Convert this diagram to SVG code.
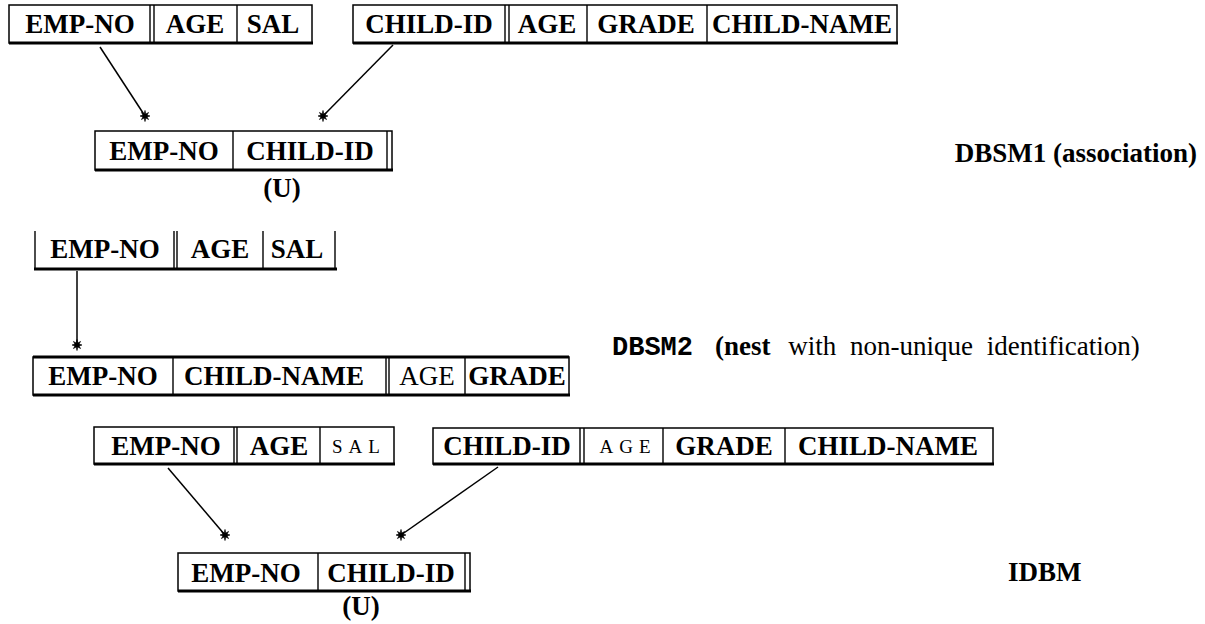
<svg xmlns="http://www.w3.org/2000/svg" width="1205" height="624" viewBox="0 0 1205 624">
<style>
.bg{fill:#fff}
.box{fill:#fff;stroke:#000;stroke-width:1.5}
.thick{stroke:#000;stroke-width:3.2;fill:none}
.div{stroke:#000;stroke-width:1.4;fill:none}
.t{font-family:"Liberation Serif",serif;font-weight:bold;font-size:27px;text-anchor:middle;fill:#000}
.r{font-weight:normal}
.sc{font-weight:normal;font-size:19px;letter-spacing:6px}
.edge{stroke:#000;stroke-width:1.5;fill:none;marker-end:url(#star)}
.lab{font-family:"Liberation Serif",serif;font-size:27px;fill:#000}
.b{font-weight:bold}
.mono{font-family:"Liberation Mono",monospace;font-weight:bold}
</style>
<defs>
<marker id="star" viewBox="-7 -7 14 14" markerWidth="14" markerHeight="14" refX="0" refY="0" markerUnits="userSpaceOnUse" orient="0">
<polygon points="5,0 2.1,0.9 3.6,3.6 0.9,2.1 0,5.6 -0.9,2.1 -3.6,3.6 -2.1,0.9 -5,0 -2.1,-0.9 -3.6,-3.6 -0.9,-2.1 0,-5.6 0.9,-2.1 3.6,-3.6 2.1,-0.9" fill="#000" stroke="#000" stroke-width="0.6" stroke-linejoin="round"/>
</marker>
</defs>
<rect class="bg" x="0" y="0" width="1205" height="624"/>

<g id="dbsm1-employee">
<rect class="box" x="9" y="5" width="303" height="38"/>
<line class="thick" x1="9" y1="43" x2="313" y2="43"/>
<line class="div" x1="150" y1="5" x2="150" y2="43"/>
<line class="div" x1="154" y1="5" x2="154" y2="43"/>
<line class="div" x1="237" y1="5" x2="237" y2="43"/>
<text class="t" x="80" y="33">EMP-NO</text>
<text class="t" x="195" y="33">AGE</text>
<text class="t" x="273" y="33">SAL</text>
</g>

<g id="dbsm1-child">
<rect class="box" x="353" y="5" width="544" height="38"/>
<line class="thick" x1="353" y1="43" x2="898" y2="43"/>
<line class="div" x1="505" y1="5" x2="505" y2="43"/>
<line class="div" x1="509" y1="5" x2="509" y2="43"/>
<line class="div" x1="587" y1="5" x2="587" y2="43"/>
<line class="div" x1="707" y1="5" x2="707" y2="43"/>
<text class="t" x="429" y="33">CHILD-ID</text>
<text class="t" x="547" y="33">AGE</text>
<text class="t" x="646" y="33">GRADE</text>
<text class="t" x="802" y="33">CHILD-NAME</text>
</g>

<g id="dbsm1-assoc">
<rect class="box" x="95" y="131" width="297" height="39"/>
<line class="thick" x1="95" y1="170" x2="393" y2="170"/>
<line class="div" x1="233" y1="131" x2="233" y2="170"/>
<line class="div" x1="387" y1="131" x2="387" y2="170"/>
<text class="t" x="164" y="160">EMP-NO</text>
<text class="t" x="310" y="160">CHILD-ID</text>
<text class="t" x="282" y="197">(U)</text>
</g>

<g id="dbsm2-employee">
<line class="div" x1="35" y1="231" x2="35" y2="269"/>
<line class="div" x1="174" y1="231" x2="174" y2="269"/>
<line class="div" x1="177" y1="231" x2="177" y2="269"/>
<line class="div" x1="263" y1="231" x2="263" y2="269"/>
<line class="div" x1="335" y1="231" x2="335" y2="269"/>
<line class="thick" x1="34" y1="269" x2="337" y2="269"/>
<text class="t" x="105" y="258">EMP-NO</text>
<text class="t" x="220" y="258">AGE</text>
<text class="t" x="297" y="258">SAL</text>
</g>

<g id="dbsm2-nest">
<rect class="box" x="33" y="357" width="536" height="38"/>
<line class="thick" x1="33" y1="357" x2="569" y2="357"/>
<line class="thick" x1="33" y1="395" x2="570" y2="395"/>
<line class="div" x1="173" y1="357" x2="173" y2="395"/>
<line class="div" x1="386" y1="357" x2="386" y2="395"/>
<line class="div" x1="389" y1="357" x2="389" y2="395"/>
<line class="div" x1="465" y1="357" x2="465" y2="395"/>
<text class="t" x="103" y="385">EMP-NO</text>
<text class="t" x="274" y="385">CHILD-NAME</text>
<text class="t r" x="427" y="385">AGE</text>
<text class="t" x="517" y="385">GRADE</text>
</g>

<g id="idbm-employee">
<rect class="box" x="94" y="427" width="300" height="37"/>
<line class="thick" x1="94" y1="464" x2="395" y2="464"/>
<line class="div" x1="234" y1="427" x2="234" y2="464"/>
<line class="div" x1="237" y1="427" x2="237" y2="464"/>
<line class="div" x1="320" y1="427" x2="320" y2="464"/>
<text class="t" x="166" y="455">EMP-NO</text>
<text class="t" x="279" y="455">AGE</text>
<text class="t sc" x="359" y="453">SAL</text>
</g>

<g id="idbm-child">
<rect class="box" x="433" y="428" width="560" height="36"/>
<line class="thick" x1="433" y1="464" x2="994" y2="464"/>
<line class="div" x1="580" y1="428" x2="580" y2="464"/>
<line class="div" x1="584" y1="428" x2="584" y2="464"/>
<line class="div" x1="663" y1="428" x2="663" y2="464"/>
<line class="div" x1="785" y1="428" x2="785" y2="464"/>
<text class="t" x="507" y="455">CHILD-ID</text>
<text class="t sc" x="628" y="453">AGE</text>
<text class="t" x="724" y="455">GRADE</text>
<text class="t" x="888" y="455">CHILD-NAME</text>
</g>

<g id="idbm-assoc">
<rect class="box" x="178" y="553" width="292" height="38"/>
<line class="thick" x1="178" y1="591" x2="471" y2="591"/>
<line class="div" x1="318" y1="553" x2="318" y2="591"/>
<line class="div" x1="465" y1="553" x2="465" y2="591"/>
<text class="t" x="246" y="582">EMP-NO</text>
<text class="t" x="391" y="582">CHILD-ID</text>
<text class="t" x="361" y="615">(U)</text>
</g>

<g id="connectors">
<line class="edge" x1="100" y1="47" x2="145" y2="116"/>
<line class="edge" x1="393" y1="45" x2="323" y2="116"/>
<line class="edge" x1="77" y1="271" x2="77" y2="345"/>
<line class="edge" x1="168" y1="468" x2="225" y2="535"/>
<line class="edge" x1="498" y1="467" x2="401" y2="535"/>
</g>

<g id="labels">
<text class="lab b" x="1197" y="162" text-anchor="end" font-size="25">DBSM1 (association)</text>
<text class="lab" x="612" y="355"><tspan class="mono">DBSM2</tspan><tspan class="b" dx="22">(nest</tspan><tspan dx="4" word-spacing="7"> with non-unique identification)</tspan></text>
<text class="lab b" x="1008" y="581">IDBM</text>
</g>
</svg>
